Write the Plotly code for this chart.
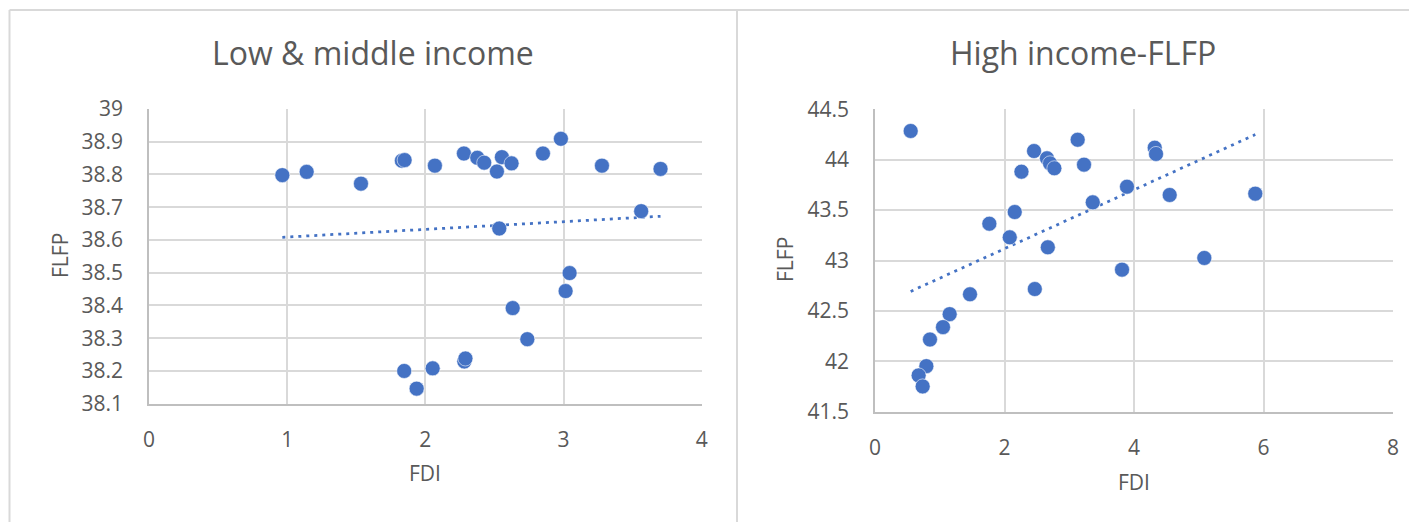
import numpy as np
import plotly.graph_objects as go

# page body has an 8px default margin; the figure is sized and positioned to compensate
OFF = 8
W, H = 1417 - OFF, 522 - OFF

# ---------------- data ----------------
low_fdi = [0.965, 1.141, 1.534, 1.830, 1.850, 2.069, 2.279, 2.376, 2.426, 2.554,
           2.624, 2.518, 2.851, 2.981, 3.278, 3.702, 3.562, 2.535, 3.044, 3.015,
           2.632, 2.738, 2.282, 2.290, 2.053, 1.847, 1.937]
low_flfp = [38.798, 38.808, 38.772, 38.842, 38.844, 38.827, 38.864, 38.851, 38.836, 38.853,
            38.834, 38.809, 38.864, 38.909, 38.827, 38.817, 38.688, 38.635, 38.499, 38.444,
            38.392, 38.297, 38.229, 38.238, 38.208, 38.200, 38.146]

high_fdi = [0.551, 2.456, 2.656, 2.703, 2.770, 2.262, 3.130, 3.228, 1.766, 2.158,
            2.081, 2.669, 2.468, 1.467, 3.363, 3.892, 4.320, 4.340, 4.551, 5.873,
            5.086, 3.815, 1.153, 1.050, 0.849, 0.793, 0.674, 0.736]
high_flfp = [44.285, 44.086, 44.014, 43.964, 43.915, 43.881, 44.198, 43.951, 43.365, 43.481,
             43.230, 43.131, 42.717, 42.665, 43.577, 43.732, 44.119, 44.057, 43.650, 43.663,
             43.025, 42.909, 42.468, 42.339, 42.216, 41.952, 41.860, 41.751]

low_title = "Low & middle income"
high_title = "High income-FLFP"
x_label = "FDI"
y_label = "FLFP"

low_xticks = [0, 1, 2, 3, 4]
low_yticks = [38.1, 38.2, 38.3, 38.4, 38.5, 38.6, 38.7, 38.8, 38.9, 39.0]
low_yticktext = ["38.1", "38.2", "38.3", "38.4", "38.5", "38.6", "38.7", "38.8", "38.9", "39"]
high_xticks = [0, 2, 4, 6, 8]
high_yticks = [41.5, 42.0, 42.5, 43.0, 43.5, 44.0, 44.5]
high_yticktext = ["41.5", "42", "42.5", "43", "43.5", "44", "44.5"]

# ---------------- style ----------------
BLUE = "#4472C4"
TXT = "#595959"
GRID = "#D9D9D9"
AXL = "#BFBFBF"
FONT = "Open Sans"


def px_x(p):
    return (p - OFF) / W


def px_y(p):
    return 1 - (p - OFF) / H


fig = go.Figure()


def add_panel(xs, ys, xa, ya):
    m, b = np.polyfit(xs, ys, 1)
    tx = [min(xs), max(xs)]
    ty = [m * v + b for v in tx]
    fig.add_trace(go.Scatter(x=tx, y=ty, mode="lines", xaxis=xa, yaxis=ya,
                             line=dict(color=BLUE, width=2.75, dash="3px,5px"),
                             showlegend=False, hoverinfo="skip"))
    fig.add_trace(go.Scatter(x=xs, y=ys, mode="markers", xaxis=xa, yaxis=ya,
                             marker=dict(color=BLUE, size=15,
                                         line=dict(width=0.8, color="rgba(255,255,255,0.7)")),
                             showlegend=False, hoverinfo="x+y"))


add_panel(low_fdi, low_flfp, "x", "y")
add_panel(high_fdi, high_flfp, "x2", "y2")

axis_common = dict(showgrid=True, gridcolor=GRID, gridwidth=1.5, zeroline=False,
                   showline=True, linecolor=AXL, linewidth=1.5, automargin=False,
                   tickfont=dict(family=FONT, size=21, color=TXT),
                   ticks="", fixedrange=True)

fig.update_layout(
    width=W, height=H,
    margin=dict(l=0, r=0, t=0, b=0, pad=0, autoexpand=False),
    paper_bgcolor="white", plot_bgcolor="white",
    font=dict(family=FONT, color=TXT),
    xaxis=dict(domain=[px_x(149), px_x(701.7)], range=[0, 4], tickvals=low_xticks,
               anchor="y", ticklabelstandoff=16, **axis_common),
    yaxis=dict(domain=[px_y(403.7), px_y(109)], range=[38.1, 39.0], tickvals=low_yticks,
               ticktext=low_yticktext, anchor="x", ticklabelstandoff=20, **axis_common),
    xaxis2=dict(domain=[px_x(875), px_x(1393)], range=[0, 8], tickvals=high_xticks,
                anchor="y2", ticklabelstandoff=16, **axis_common),
    yaxis2=dict(domain=[px_y(411.7), px_y(109.3)], range=[41.5, 44.5], tickvals=high_yticks,
                ticktext=high_yticktext, anchor="x2", ticklabelstandoff=20, **axis_common),
)

annots = [
    dict(text=low_title, x=px_x(373), y=px_y(52), size=32),
    dict(text=high_title, x=px_x(1083), y=px_y(52), size=32),
    dict(text=x_label, x=px_x(425), y=px_y(473), size=21),
    dict(text=x_label, x=px_x(1134), y=px_y(482), size=21),
    dict(text=y_label, x=px_x(60), y=px_y(256), size=21, angle=-90),
    dict(text=y_label, x=px_x(785), y=px_y(260), size=21, angle=-90),
]
for a in annots:
    fig.add_annotation(text=a["text"], x=a["x"], y=a["y"], xref="paper", yref="paper",
                       showarrow=False, xanchor="center", yanchor="middle",
                       textangle=a.get("angle", 0),
                       font=dict(family=FONT, size=a["size"], color=TXT))

# chart-area borders
border = dict(color=GRID, width=2)
fig.add_shape(type="line", xref="paper", yref="paper", x0=px_x(9.5), x1=1, y0=px_y(10), y1=px_y(10), line=border)
fig.add_shape(type="line", xref="paper", yref="paper", x0=px_x(9.5), x1=px_x(9.5), y0=px_y(10), y1=0, line=border)
fig.add_shape(type="line", xref="paper", yref="paper", x0=px_x(737), x1=px_x(737), y0=px_y(10), y1=0, line=border)

fig.write_html("out.html")
